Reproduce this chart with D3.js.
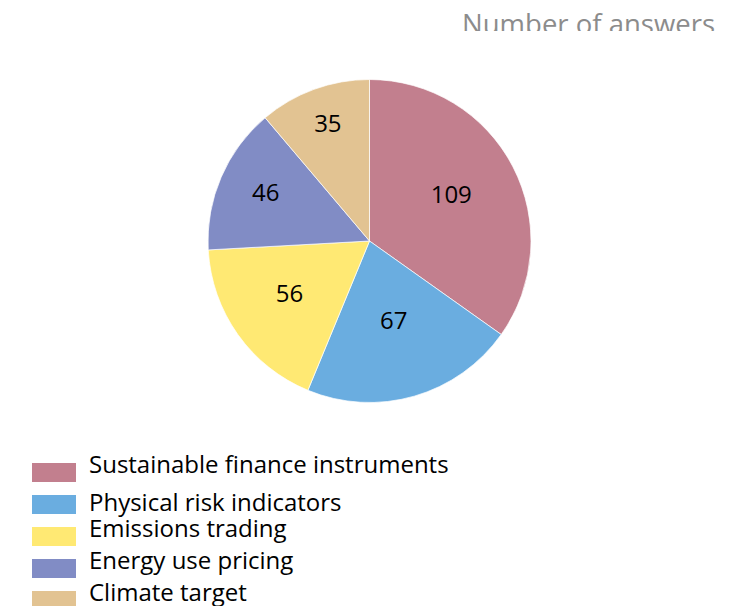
<!DOCTYPE html>
<html><head><meta charset="utf-8">
<script src="https://cdn.jsdelivr.net/npm/d3@7"></script>
<style>html,body{margin:0;padding:0;background:#fff;}svg{display:block;}</style>
</head><body>
<svg id="chart" width="738" height="606"></svg>
<script>
const categories = ["Sustainable finance instruments","Physical risk indicators","Emissions trading","Energy use pricing","Climate target"];
const values = [109, 67, 56, 46, 35];
const colors = ["#C27F8E","#6AADE0","#FFE973","#818CC5","#E2C392"];
const title = "Number of answers";

const svg = d3.select("#chart");
const font = "'Open Sans', 'Noto Sans', sans-serif";

// title, clipped at the top region
svg.append("defs").append("clipPath").attr("id","tclip")
  .append("rect").attr("x",0).attr("y",0).attr("width",738).attr("height",31);
svg.append("text").attr("clip-path","url(#tclip)")
  .attr("x",715).attr("y",34).attr("text-anchor","end")
  .attr("font-family",font).attr("font-size",27.5).attr("fill","#8c8c8c")
  .text(title);

const cx = 369.5, cy = 241, R = 161.5;
// label distance from centre (layout, best-fit style)
const labelRadius = [92, 87, 98, 113, 121];
const data = categories.map((c,i)=>({cat:c, value:values[i], color:colors[i], lr:labelRadius[i]}));
const pie = d3.pie().value(d=>d.value).sort(null);
const arc = d3.arc().innerRadius(0).outerRadius(R);
const g = svg.append("g").attr("transform",`translate(${cx},${cy})`);
const arcs = pie(data);
g.selectAll("path").data(arcs).join("path")
  .attr("d",arc).attr("fill",d=>d.data.color)
  .attr("stroke","#fff").attr("stroke-width",0.7);
g.selectAll("text").data(arcs).join("text")
  .attr("transform",d=>{
    const a = (d.startAngle+d.endAngle)/2;
    return `translate(${Math.sin(a)*d.data.lr},${-Math.cos(a)*d.data.lr})`;
  })
  .attr("text-anchor","middle").attr("dy","0.18em")
  .attr("font-family",font).attr("font-size",24).attr("fill","#000")
  .text(d=>d.data.value);

// legend
const swatchY = [463, 495, 527, 559, 591];
const textY = [473, 511, 537, 569, 601];
const lg = svg.append("g");
data.forEach((d,i)=>{
  lg.append("rect").attr("x",32).attr("y",swatchY[i]).attr("width",44).attr("height",19).attr("fill",d.color);
  lg.append("text").attr("x",89).attr("y",textY[i])
    .attr("font-family",font).attr("font-size",24).attr("fill","#000").text(d.cat);
});
</script>
</body></html>
